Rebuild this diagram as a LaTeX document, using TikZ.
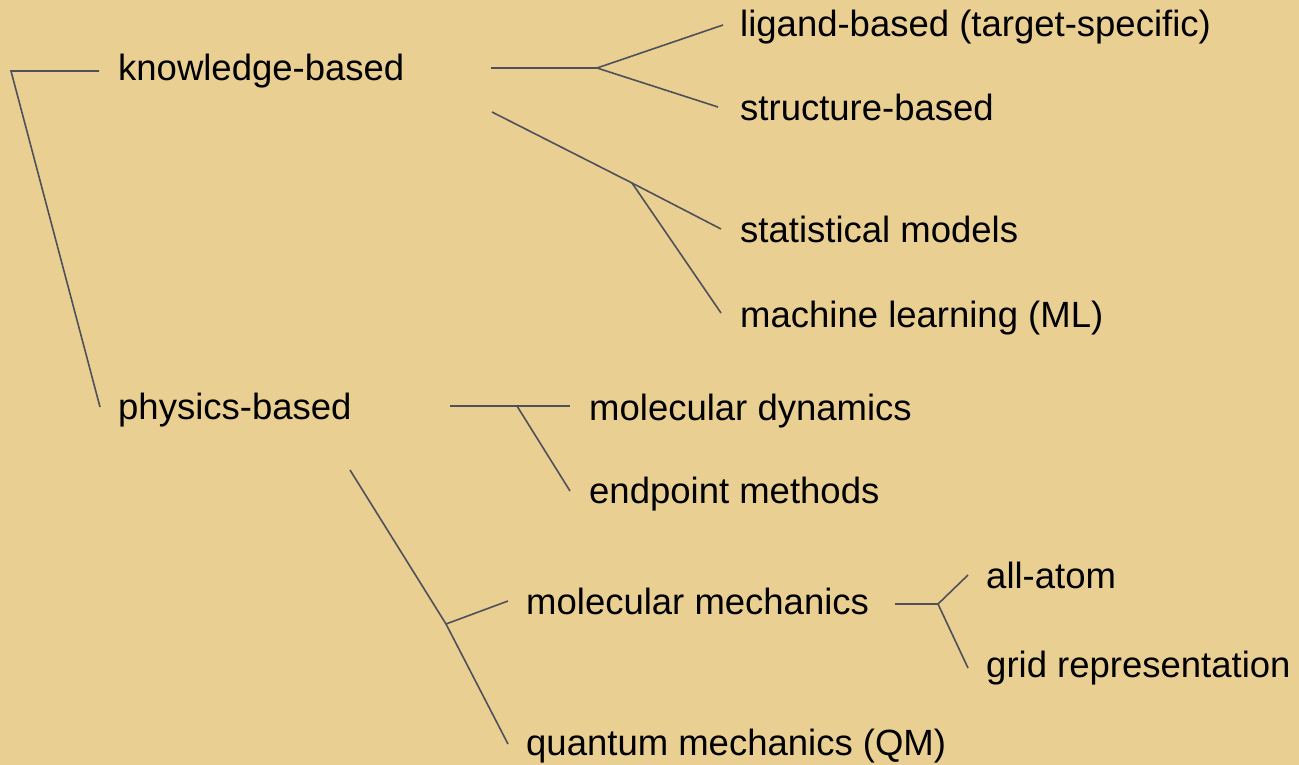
\documentclass[tikz,border=0pt]{standalone}
\usepackage{fontspec}
\setmainfont{Liberation Sans}
\definecolor{parch}{RGB}{233,207,146}
\definecolor{lineg}{RGB}{78,80,90}
\begin{document}
\begin{tikzpicture}[x=1pt,y=-1pt,
  lbl/.style={anchor=base west,inner sep=0pt,font=\fontsize{36.5}{40}\selectfont,text=black},
  conn/.style={draw=lineg,line width=1.6pt}]
\fill[parch] (0,0) rectangle (1299,765);
\useasboundingbox (0,0) rectangle (1299,765);
% labels
\node[lbl] (kb) at (118,81) {knowledge-based};
\node[lbl] (lig) at (740,37) {ligand-based (target-specific)};
\node[lbl] (sb) at (740,121) {structure-based};
\node[lbl] (stat) at (740,242) {statistical models};
\node[lbl] (ml) at (740,327) {machine learning (ML)};
\node[lbl] (pb) at (118,419) {physics-based};
\node[lbl] (md) at (589,420) {molecular dynamics};
\node[lbl] (ep) at (589,503) {endpoint methods};
\node[lbl] (mm) at (526,614) {molecular mechanics};
\node[lbl] (qm) at (526,755) {quantum mechanics (QM)};
\node[lbl] (aa) at (986,588) {all-atom};
\node[lbl] (grid) at (986,677) {grid representation};
% connector points
\coordinate (r0) at (11,71);
\coordinate (kbL) at (99,71);
\coordinate (pbL) at (100,407);
\coordinate (k1s) at (491,68);
\coordinate (k1j) at (597,68);
\coordinate (ligL) at (723,25);
\coordinate (sbL) at (718,107);
\coordinate (k2s) at (492,112);
\coordinate (k2j) at (632,183);
\coordinate (statL) at (721,229);
\coordinate (mlL) at (721,313);
\coordinate (p1s) at (450,406);
\coordinate (p1j) at (517,406);
\coordinate (mdL) at (570,406);
\coordinate (epL) at (570,491);
\coordinate (p2s) at (350,470);
\coordinate (p2j) at (446,624);
\coordinate (mmL) at (508,601);
\coordinate (qmL) at (508,744);
\coordinate (m1s) at (895,604);
\coordinate (m1j) at (938,604);
\coordinate (aaL) at (968,575);
\coordinate (gridL) at (968,668);
% connectors
\draw[conn] (kbL) -- (r0) -- (pbL);
\draw[conn] (k1s) -- (k1j) -- (ligL);
\draw[conn] (k1j) -- (sbL);
\draw[conn] (k2s) -- (k2j) -- (statL);
\draw[conn] (k2j) -- (mlL);
\draw[conn] (p1s) -- (mdL);
\draw[conn] (p1j) -- (epL);
\draw[conn] (p2s) -- (p2j) -- (qmL);
\draw[conn] (p2j) -- (mmL);
\draw[conn] (m1s) -- (m1j) -- (aaL);
\draw[conn] (m1j) -- (gridL);
\end{tikzpicture}
\end{document}
